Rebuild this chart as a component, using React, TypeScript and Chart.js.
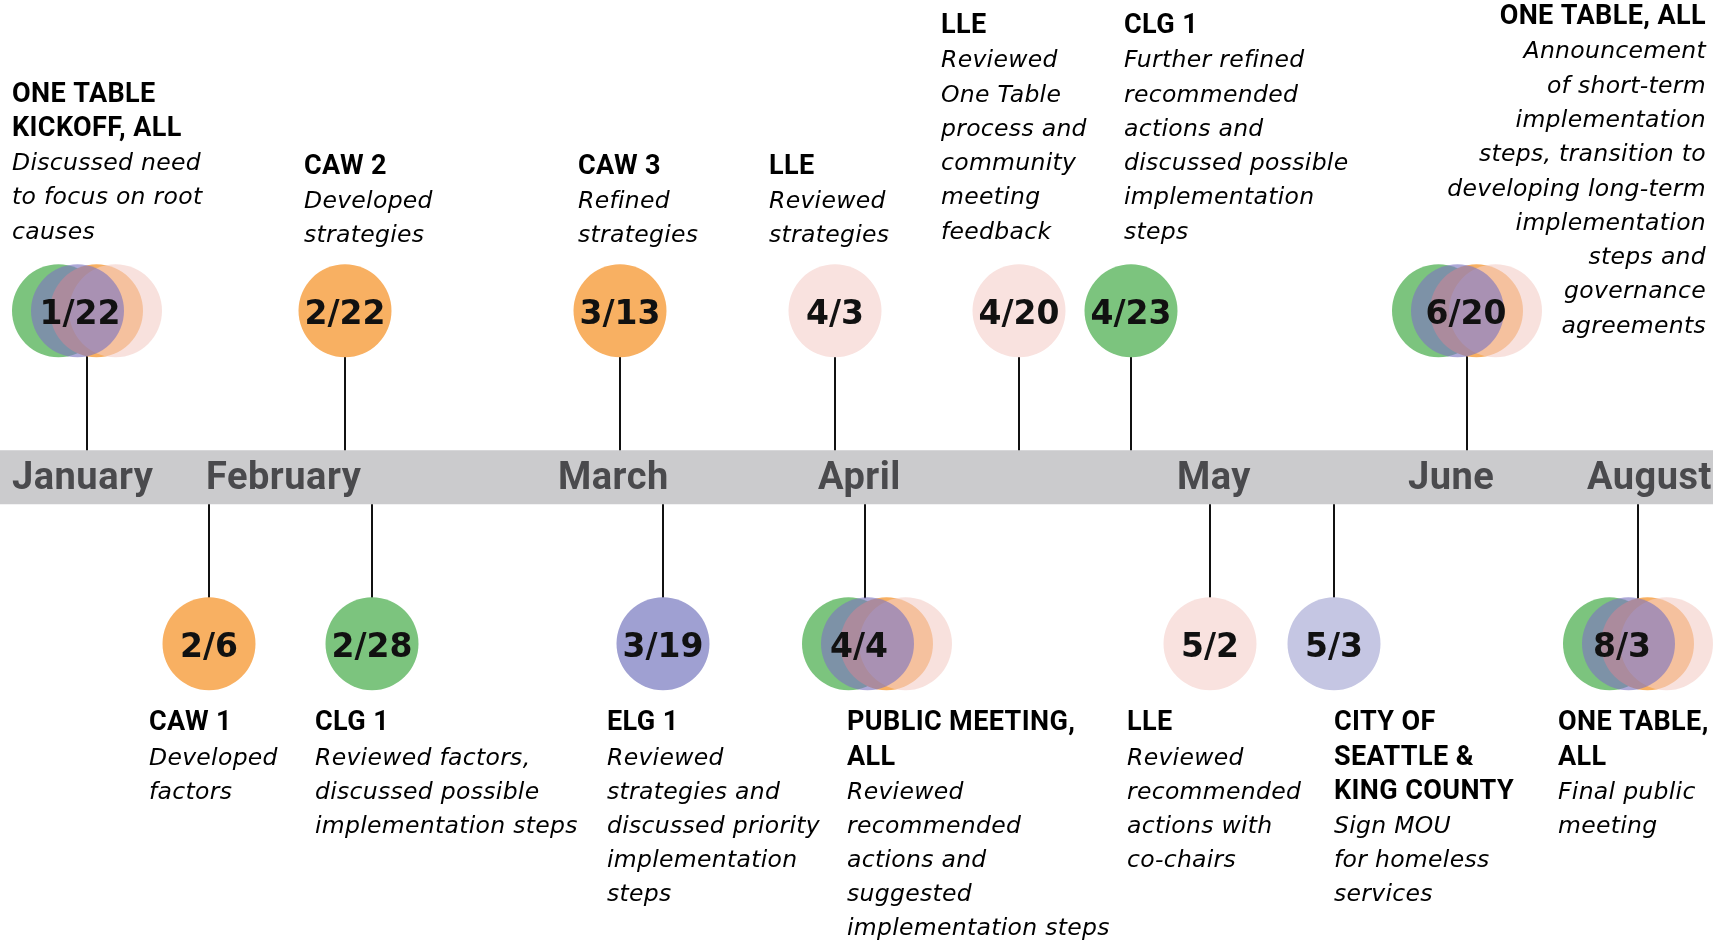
import React, { useEffect, useRef } from 'react';
import { Chart, registerables } from 'chart.js';

Chart.register(...registerables);

// ---------------- DATA ----------------
const months = ['January', 'February', 'March', 'April', 'May', 'June', 'August'];
const monthPositions = [12, 206, 558, 818, 1177, 1408, 1587];

const topDates = ['1/22', '2/22', '3/13', '4/3', '4/20', '4/23', '6/20'];
const topPositions = [87, 345, 620, 835, 1019, 1131, 1467];
const topGroups = ['ALL', 'CAW', 'CAW', 'LLE', 'LLE', 'CLG', 'ALL'];
const topTitles = [
  ['ONE TABLE', 'KICKOFF, ALL'],
  ['CAW 2'],
  ['CAW 3'],
  ['LLE'],
  ['LLE'],
  ['CLG 1'],
  ['ONE TABLE, ALL'],
];
const topNotes = [
  ['Discussed need', 'to focus on root', 'causes'],
  ['Developed', 'strategies'],
  ['Refined', 'strategies'],
  ['Reviewed', 'strategies'],
  ['Reviewed', 'One Table', 'process and', 'community', 'meeting', 'feedback'],
  ['Further refined', 'recommended', 'actions and', 'discussed possible', 'implementation', 'steps'],
  ['Announcement', 'of short-term', 'implementation', 'steps, transition to', 'developing long-term', 'implementation', 'steps and', 'governance', 'agreements'],
];

const bottomDates = ['2/6', '2/28', '3/19', '4/4', '5/2', '5/3', '8/3'];
const bottomPositions = [209, 372, 663, 865, 1210, 1334, 1638];
const bottomGroups = ['CAW', 'CLG', 'ELG', 'ALL', 'LLE', 'CITY', 'ALL'];
const bottomTitles = [
  ['CAW 1'],
  ['CLG 1'],
  ['ELG 1'],
  ['PUBLIC MEETING,', 'ALL'],
  ['LLE'],
  ['CITY OF', 'SEATTLE &', 'KING COUNTY'],
  ['ONE TABLE,', 'ALL'],
];
const bottomNotes = [
  ['Developed', 'factors'],
  ['Reviewed factors,', 'discussed possible', 'implementation steps'],
  ['Reviewed', 'strategies and', 'discussed priority', 'implementation', 'steps'],
  ['Reviewed', 'recommended', 'actions and', 'suggested', 'implementation steps'],
  ['Reviewed', 'recommended', 'actions with', 'co-chairs'],
  ['Sign MOU', 'for homeless', 'services'],
  ['Final public', 'meeting'],
];

// ---------------- STYLE / LAYOUT ----------------
const W = 1727;
const H = 942;
const R = 46.5;
const BAND_HALF = 27;
const BAND_END = 1713;
const LINE_H_TOP = 34.3;
const LINE_H_BOTTOM = 34.1;

const GROUP_COLORS: Record<string, string> = {
  CAW: '#f8b062',
  LLE: '#f9e2df',
  CLG: '#7cc47e',
  ELG: '#9fa0d2',
  CITY: '#c5c6e3',
};
// cluster ("ALL") circles: offset from cluster centre, colour (drawn in this order)
const CLUSTER = [
  { dx: -28.5, color: '#7cc47e' },
  { dx: 9.5, color: '#f8b062' },
  { dx: 28.5, color: 'rgba(243,205,198,0.6)' },
  { dx: -9.5, color: 'rgba(125,117,192,0.63)' },
];

const TOP_TEXT_DX = [-75, -41, -42, -66, -78, -7, 239];
const TOP_TEXT_ALIGN = ['left', 'left', 'left', 'left', 'left', 'left', 'right'];
const TOP_TEXT_LAST_BASE = [-72, -68.5, -68.5, -68.5, -72, -72, 22];
const TOP_CIRCLE_SHIFT = [0, 0, 0, 0, 0, 0, 0];
const TOP_LABEL_DX = [-7, 0, 0, 0, 0, 0, -1];

const BOTTOM_TEXT_DX = [-60, -57, -56, -18, -83, 0, -80];
const BOTTOM_TEXT_FIRST_BASE = 86.8;
const BOTTOM_CIRCLE_SHIFT = [0, 0, 0, 12, 0, 0, 0];
const BOTTOM_LABEL_DX = [0, 0, 0, -6, 0, 0, -16];

const DATE_FONT = "bold 33px 'DejaVu Sans'";
const TITLE_FONT = 'bold 27px Roboto';
const TITLE_SPACING = '0.4px';
const NOTE_FONT = "italic 23.5px 'DejaVu Sans'";
const NOTE_SPACING = '0.3px';
const MONTH_FONT = 'bold 38px Roboto';

// lanes: +1 above the band, -1 below
const Y_MAX = 2.8672;
const Y_MIN = -2.7922;

type Ev = {
  date: string;
  pos: number;
  lane: number;
  group: string;
  titles: string[];
  notes: string[];
  textDx: number;
  align: CanvasTextAlign;
  textBase: number;
  shift: number;
  labelDx: number;
};

const events: Ev[] = [
  ...topDates.map((d, i) => ({
    date: d, pos: topPositions[i], lane: 1, group: topGroups[i], titles: topTitles[i], notes: topNotes[i],
    textDx: TOP_TEXT_DX[i], align: TOP_TEXT_ALIGN[i] as CanvasTextAlign, textBase: TOP_TEXT_LAST_BASE[i],
    shift: TOP_CIRCLE_SHIFT[i], labelDx: TOP_LABEL_DX[i],
  })),
  ...bottomDates.map((d, i) => ({
    date: d, pos: bottomPositions[i], lane: -1, group: bottomGroups[i], titles: bottomTitles[i], notes: bottomNotes[i],
    textDx: BOTTOM_TEXT_DX[i], align: 'left' as CanvasTextAlign, textBase: BOTTOM_TEXT_FIRST_BASE,
    shift: BOTTOM_CIRCLE_SHIFT[i], labelDx: BOTTOM_LABEL_DX[i],
  })),
];

function circlesOf(e: Ev) {
  if (e.group === 'ALL') return CLUSTER.map((c) => ({ x: e.pos + e.shift + c.dx, color: c.color }));
  return [{ x: e.pos + e.shift, color: GROUP_COLORS[e.group] }];
}

const points: { x: number; y: number }[] = [];
const pointColors: string[] = [];
events.forEach((e) => {
  circlesOf(e).forEach((c) => {
    points.push({ x: c.x, y: e.lane });
    pointColors.push(c.color);
  });
});

const timelinePlugin = {
  id: 'timeline',
  beforeDatasetsDraw(chart: any) {
    const { ctx, scales } = chart;
    const xs = scales.x;
    const ys = scales.y;
    const y0 = ys.getPixelForValue(0);
    ctx.save();
    // band
    ctx.fillStyle = '#cbcbcd';
    const bx0 = xs.getPixelForValue(0);
    ctx.fillRect(bx0, y0 - BAND_HALF, xs.getPixelForValue(BAND_END) - bx0, BAND_HALF * 2);
    // month labels
    ctx.fillStyle = '#4a4a4d';
    ctx.font = MONTH_FONT;
    (ctx as any).letterSpacing = '0.5px';
    ctx.textAlign = 'left';
    ctx.textBaseline = 'alphabetic';
    months.forEach((m, i) => {
      ctx.fillText(m, xs.getPixelForValue(monthPositions[i]), y0 + 11.5);
    });
    (ctx as any).letterSpacing = '0px';
    // stems
    ctx.strokeStyle = '#111';
    ctx.lineWidth = 2;
    events.forEach((e) => {
      const sx = xs.getPixelForValue(e.pos);
      const cy = ys.getPixelForValue(e.lane);
      let ext = 0;
      circlesOf(e).forEach((c) => {
        const dx = xs.getPixelForValue(c.x) - sx;
        if (Math.abs(dx) < R) ext = Math.max(ext, Math.sqrt(R * R - dx * dx));
      });
      ctx.beginPath();
      if (e.lane > 0) {
        ctx.moveTo(sx, y0 - BAND_HALF);
        ctx.lineTo(sx, cy + ext - 1);
      } else {
        ctx.moveTo(sx, y0 + BAND_HALF);
        ctx.lineTo(sx, cy - ext + 1);
      }
      ctx.stroke();
    });
    ctx.restore();
  },
  afterDatasetsDraw(chart: any) {
    const { ctx, scales } = chart;
    const xs = scales.x;
    const ys = scales.y;
    ctx.save();
    events.forEach((e) => {
      const sx = xs.getPixelForValue(e.pos);
      const cy = ys.getPixelForValue(e.lane);
      // date label
      const lx = xs.getPixelForValue(e.pos + e.labelDx);
      ctx.fillStyle = '#111';
      ctx.font = DATE_FONT;
      (ctx as any).letterSpacing = '0px';
      ctx.textAlign = 'center';
      ctx.textBaseline = 'alphabetic';
      ctx.fillText(e.date, lx, cy + 13);
      // text block
      const lines = [
        ...e.titles.map((t) => ({ t, f: TITLE_FONT, s: TITLE_SPACING })),
        ...e.notes.map((t) => ({ t, f: NOTE_FONT, s: NOTE_SPACING })),
      ];
      const lh = e.lane > 0 ? LINE_H_TOP : LINE_H_BOTTOM;
      let first: number;
      if (e.lane > 0) first = cy + e.textBase - (lines.length - 1) * lh;
      else first = cy + e.textBase;
      ctx.textAlign = e.align;
      lines.forEach((l, i) => {
        ctx.font = l.f;
        (ctx as any).letterSpacing = l.s;
        ctx.fillStyle = '#000';
        ctx.fillText(l.t, sx + e.textDx, first + i * lh);
      });
      (ctx as any).letterSpacing = '0px';
    });
    ctx.restore();
  },
};

export default function App() {
  const ref = useRef<HTMLCanvasElement>(null);
  useEffect(() => {
    if (!ref.current) return;
    const chart = new Chart(ref.current, {
      type: 'scatter',
      data: {
        datasets: [
          {
            label: 'Meetings',
            data: points,
            pointRadius: R,
            pointHoverRadius: R,
            pointBackgroundColor: pointColors,
            pointHoverBackgroundColor: pointColors,
            pointBorderWidth: 0,
            pointHoverBorderWidth: 0,
            showLine: false,
            clip: false as any,
          },
        ],
      },
      options: {
        responsive: false,
        animation: false,
        events: [],
        layout: { padding: 0, autoPadding: false },
        plugins: { legend: { display: false }, tooltip: { enabled: false }, title: { display: false } },
        scales: {
          x: { type: 'linear', min: 0, max: W, display: false },
          y: { type: 'linear', min: Y_MIN, max: Y_MAX, display: false },
        },
      },
      plugins: [timelinePlugin],
    });
    let alive = true;
    if ((document as any).fonts) {
      (document as any).fonts.ready.then(() => {
        if (alive) chart.draw();
      });
    }
    return () => {
      alive = false;
      chart.destroy();
    };
  }, []);
  return (
    <div style={{ position: 'absolute', left: 0, top: 0, width: W, height: H, background: '#fff' }}>
      <canvas ref={ref} width={W} height={H} style={{ display: 'block', width: W, height: H }} />
    </div>
  );
}
